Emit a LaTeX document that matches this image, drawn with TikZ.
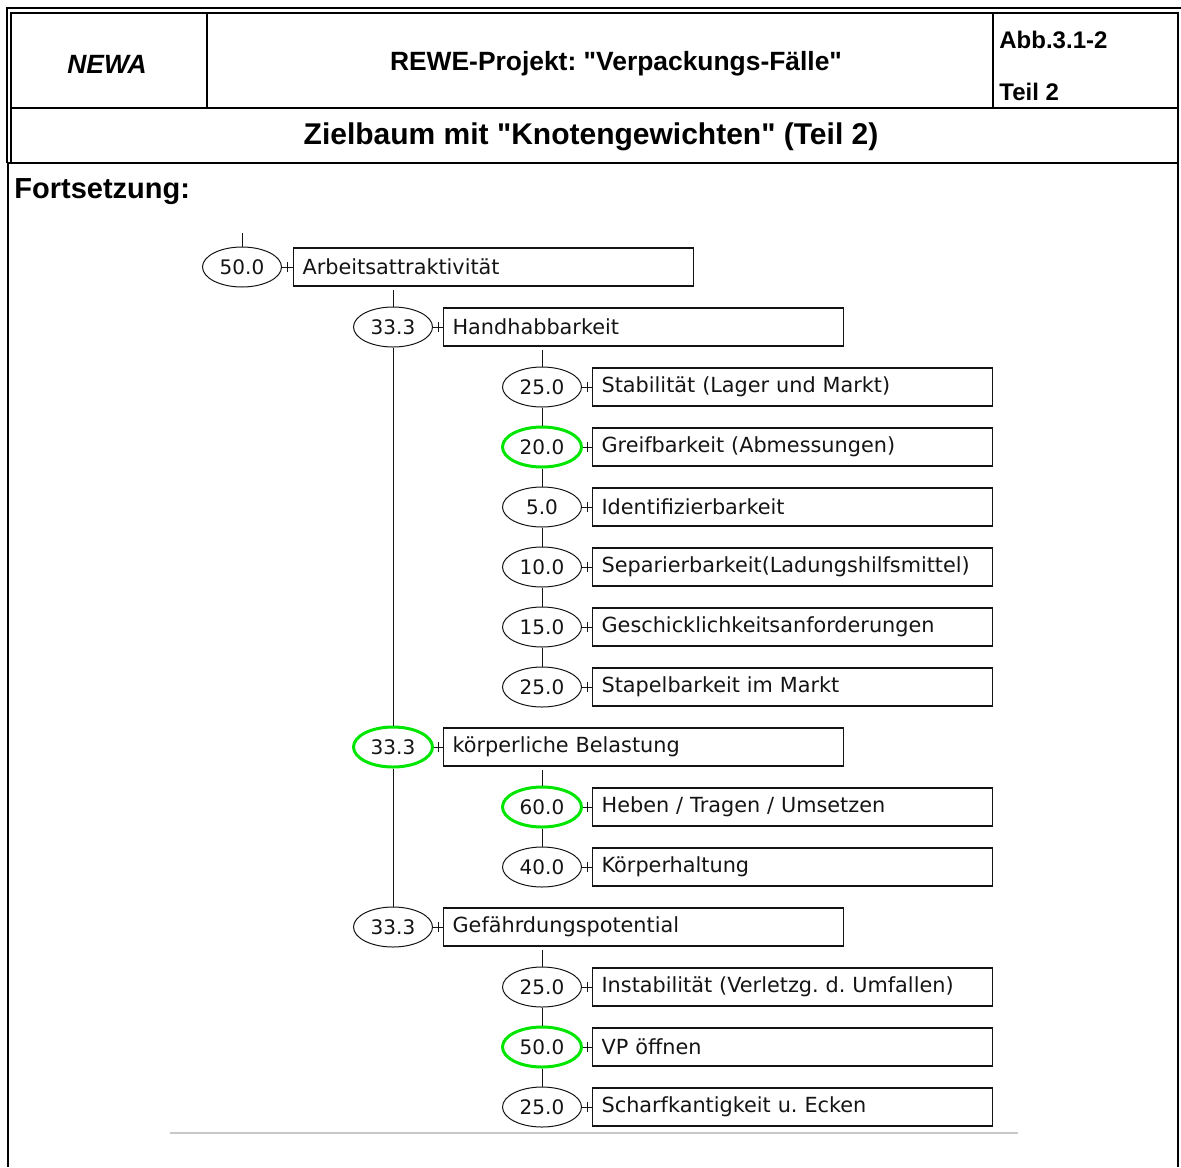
\documentclass[tikz,border=0pt]{standalone}
\usepackage{fontspec}
\setmainfont{Liberation Sans}[Ligatures=TeXOff]
\newfontfamily\treefont{DejaVu Sans}
\usetikzlibrary{shapes.geometric,calc}
\frenchspacing
\definecolor{hitgreen}{RGB}{0,230,0}
\definecolor{rulegray}{RGB}{200,200,200}
\definecolor{ink}{RGB}{20,20,20}
\tikzset{
  frame/.style={line width=0.65pt},
  heavy/.style={line width=1.35pt},
  head/.style={font=\fontsize{13.2pt}{15pt}\selectfont\bfseries,inner sep=0pt},
  title/.style={font=\fontsize{15pt}{17pt}\selectfont\bfseries,inner sep=0pt},
  small/.style={font=\fontsize{12pt}{14pt}\selectfont\bfseries,inner sep=0pt},
  weight/.style={ellipse,draw=#1,line width=0.5pt,minimum width=39.5pt,minimum height=20pt,
    inner sep=0pt,text=ink,font=\treefont\fontsize{10pt}{12pt}\selectfont},
  weight/.default=ink,
  hit/.style={weight=hitgreen,line width=1.5pt},
  goal/.style={draw=ink,line width=0.6pt,anchor=west,minimum height=19pt,text width=191pt,
    inner xsep=4.5pt,align=left,text=ink,font=\treefont\fontsize{10.4pt}{12pt}\selectfont},
  link/.style={draw=ink,line width=0.5pt},
}
% weight ellipse joined to its goal box, with the small tick between
\newcommand\joint[2]{\draw[link] (#1) -- (#2) ($(#1.east)!0.5!(#2.west)$) +(0,-5) -- +(0,5);}

\begin{document}
\begin{tikzpicture}[x=0.5pt,y=-0.5pt]
  \useasboundingbox (0,0) rectangle (1181,1167);
  % double frame round the header
  \draw[frame] (6,8) -- (1181,8);
  \draw[frame] (7,8) -- (7,163);
  \draw[frame] (11,163) -- (11,13) -- (1178,13) -- (1178,1167);
  \draw[frame] (11,108) -- (1178,108);
  \draw[frame] (207,13) -- (207,108);
  \draw[frame] (993,13) -- (993,108);
  \draw[heavy] (7,163) -- (1178,163);
  \draw[heavy] (8,163) -- (8,1167);

  % header texts
  \node[head] (newa) at (107,64) {\itshape NEWA};
  \node[head] (proj) at (616,64) {REWE-Projekt: "Verpackungs-Fälle"};
  \node[small,anchor=west] (abb) at (999,40) {Abb.3.1-2};
  \node[small,anchor=west] (teil) at (999,92) {Teil 2};
  \node[title] (ttl) at (591,137) {Zielbaum mit "Knotengewichten" (Teil 2)};
  \node[head,anchor=west,font=\fontsize{14.5pt}{17pt}\selectfont\bfseries] (fort) at (14,192) {Fortsetzung:};

  % level 1
  \coordinate (cont) at (242,233);
  \node[weight] (wArb) at (242,267) {50.0};
  \node[goal] (gArb) at (293,267) {Arbeitsattraktivität};

  % level 2
  \node[weight] (wHand) at (393,327) {33.3};
  \node[goal] (gHand) at (443,327) {Handhabbarkeit};
  \node[hit] (wKoerp) at (393,747) {33.3};
  \node[goal] (gKoerp) at (443,747) {körperliche Belastung};
  \node[weight] (wGef) at (393,927) {33.3};
  \node[goal] (gGef) at (443,927) {Gefährdungspotential};

  % level 3 under Handhabbarkeit
  \node[weight] (wStab) at (542,387) {25.0};
  \node[goal] (gStab) at (592,387) {Stabilität (Lager und Markt)};
  \node[hit] (wGreif) at (542,447) {20.0};
  \node[goal] (gGreif) at (592,447) {Greifbarkeit (Abmessungen)};
  \node[weight] (wIdent) at (542,507) {5.0};
  \node[goal] (gIdent) at (592,507) {Identifizierbarkeit};
  \node[weight] (wSep) at (542,567) {10.0};
  \node[goal] (gSep) at (592,567) {Separierbarkeit(Ladungshilfsmittel)};
  \node[weight] (wGesch) at (542,627) {15.0};
  \node[goal] (gGesch) at (592,627) {Geschicklichkeitsanforderungen};
  \node[weight] (wStap) at (542,687) {25.0};
  \node[goal] (gStap) at (592,687) {Stapelbarkeit im Markt};

  % level 3 under koerperliche Belastung
  \node[hit] (wHeb) at (542,807) {60.0};
  \node[goal] (gHeb) at (592,807) {Heben / Tragen / Umsetzen};
  \node[weight] (wHalt) at (542,867) {40.0};
  \node[goal] (gHalt) at (592,867) {Körperhaltung};

  % level 3 under Gefaehrdungspotential
  \node[weight] (wInst) at (542,987) {25.0};
  \node[goal] (gInst) at (592,987) {Instabilität (Verletzg. d. Umfallen)};
  \node[hit] (wOeff) at (542,1047) {50.0};
  \node[goal] (gOeff) at (592,1047) {VP öffnen};
  \node[weight] (wScharf) at (542,1107) {25.0};
  \node[goal] (gScharf) at (592,1107) {Scharfkantigkeit u. Ecken};

  % ellipse to box
  \foreach \n in {Arb,Hand,Koerp,Gef,Stab,Greif,Ident,Sep,Gesch,Stap,Heb,Halt,Inst,Oeff,Scharf}
    {\joint{w\n}{g\n}}

  % parent box down to first child
  \draw[link] (cont) -- (wArb);
  \draw[link,shorten >=1.5pt] (wHand) -- (wHand |- gArb.south);
  \draw[link,shorten >=1.5pt] (wStab) -- (wStab |- gHand.south);
  \draw[link,shorten >=1.5pt] (wHeb) -- (wHeb |- gKoerp.south);
  \draw[link,shorten >=1.5pt] (wInst) -- (wInst |- gGef.south);

  % siblings
  \draw[link] (wHand) -- (wKoerp);
  \draw[link] (wKoerp) -- (wGef);
  \draw[link] (wStab) -- (wGreif);
  \draw[link] (wGreif) -- (wIdent);
  \draw[link] (wIdent) -- (wSep);
  \draw[link] (wSep) -- (wGesch);
  \draw[link] (wGesch) -- (wStap);
  \draw[link] (wHeb) -- (wHalt);
  \draw[link] (wInst) -- (wOeff);
  \draw[link] (wOeff) -- (wScharf);

  \draw[rulegray,line width=1pt] (170,1133) -- (1018,1133);
\end{tikzpicture}
\end{document}
